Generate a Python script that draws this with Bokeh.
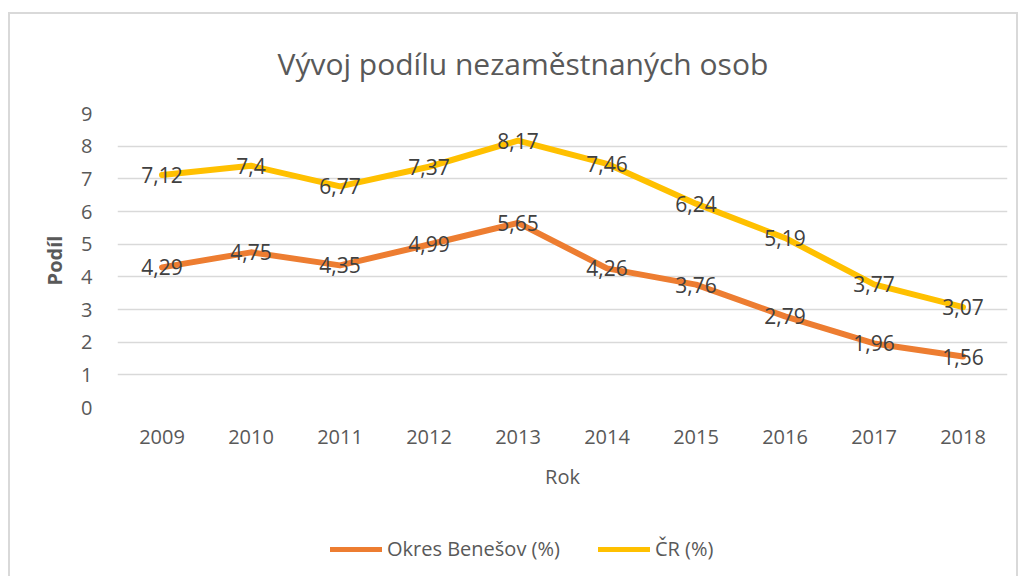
from bokeh.plotting import figure
from bokeh.models import (ColumnDataSource, FactorRange, Range1d, FixedTicker,
                          Legend, LegendItem, Title)
from bokeh.layouts import column
from bokeh.core.properties import value
from bokeh.embed import file_html
from bokeh.resources import INLINE

years = ["2009", "2010", "2011", "2012", "2013", "2014", "2015", "2016", "2017", "2018"]
benesov = [4.29, 4.75, 4.35, 4.99, 5.65, 4.26, 3.76, 2.79, 1.96, 1.56]
cr = [7.12, 7.4, 6.77, 7.37, 8.17, 7.46, 6.24, 5.19, 3.77, 3.07]
series_names = ["Okres Benešov (%)", "ČR (%)"]
series_colors = ["#ED7D31", "#FFC000"]
y_ticks = [0, 1, 2, 3, 4, 5, 6, 7, 8, 9]

FONT = "Open Sans"
W = 1010
H1, H2 = 506, 58

def fmt(v):
    return str(v).replace(".", ",")

src_b = ColumnDataSource(dict(x=years, y=benesov, lab=[fmt(v) for v in benesov]))
src_c = ColumnDataSource(dict(x=years, y=cr, lab=[fmt(v) for v in cr]))

p = figure(width=W, height=H1, x_range=FactorRange(*years, range_padding=0),
           y_range=Range1d(0, 9), output_backend="svg", toolbar_location=None,
           min_border_left=107, min_border_right=13, min_border_top=98,
           min_border_bottom=H1 - 98 - 295)
p.outline_line_color = None
p.background_fill_color = "white"
p.border_fill_color = "white"

p.title = Title(text="Vývoj podílu nezaměstnaných osob", align="left",
                vertical_align="top", offset=160,
                text_font=FONT, text_font_size="30px", text_font_style="normal",
                text_color="#595959", standoff=56)

p.xgrid.grid_line_color = None
p.ygrid.grid_line_color = "#d9d9d9"
p.ygrid.grid_line_width = 1.5
p.yaxis.ticker = FixedTicker(ticks=y_ticks)

for ax in (p.xaxis[0], p.yaxis[0]):
    ax.axis_line_color = None
    ax.major_tick_line_color = None
    ax.minor_tick_line_color = None
    ax.major_label_text_font = FONT
    ax.major_label_text_font_size = "20px"
    ax.major_label_text_color = "#595959"
    ax.axis_label_text_font = FONT
    ax.axis_label_text_color = "#595959"

p.yaxis.axis_label = "Podíl"
p.yaxis.axis_label_text_font_style = "bold"
p.yaxis.axis_label_text_font_size = "20px"
p.yaxis.major_label_standoff = 19
p.yaxis.axis_label_standoff = 10

p.xaxis.axis_label = "Rok"
p.xaxis.axis_label_text_font_style = "normal"
p.xaxis.axis_label_text_font_size = "20px"
p.xaxis.major_label_standoff = 16
p.xaxis.axis_label_standoff = 16

r_b = p.line("x", "y", source=src_b, line_color=series_colors[0], line_width=6,
             line_join="round", line_cap="round")
r_c = p.line("x", "y", source=src_c, line_color=series_colors[1], line_width=6,
             line_join="round", line_cap="round")

for s in (src_b, src_c):
    p.text("x", "y", text="lab", source=s, text_align="center",
           text_baseline="middle", text_font=value(FONT), text_font_size="21px",
           text_color="#404040")

# legend strip below the chart (its lines lie outside its visible range)
p2 = figure(width=W, height=H2, x_range=Range1d(0, 1), y_range=Range1d(0, 1),
            output_backend="svg", toolbar_location=None,
            x_axis_location=None, y_axis_location=None,
            min_border_left=0, min_border_right=0, min_border_top=0,
            min_border_bottom=0)
p2.outline_line_color = None
p2.xgrid.grid_line_color = None
p2.ygrid.grid_line_color = None
items = []
for name, col in zip(series_names, series_colors):
    r = p2.line(x=[5, 6], y=[5, 6], line_color=col, line_width=5, line_cap="round")
    items.append(LegendItem(label=name, renderers=[r]))
legend = Legend(items=items, orientation="horizontal", location=(213, 14),
                label_text_font=FONT, label_text_font_size="20px",
                label_text_color="#595959", glyph_width=52, label_standoff=5,
                spacing=38, border_line_color=None, background_fill_alpha=0,
                padding=0, margin=0)
p2.add_layout(legend)

p.styles = {"border-top": "2px solid #d9d9d9", "border-left": "2px solid #d9d9d9",
            "border-right": "2px solid #d9d9d9"}
p2.styles = {"border-left": "2px solid #d9d9d9", "border-right": "2px solid #d9d9d9"}

layout = column(p, p2, spacing=0)
layout.styles = {"margin-top": "12px", "margin-left": "8px"}

with open("out.html", "w") as f:
    f.write(file_html(layout, INLINE))
